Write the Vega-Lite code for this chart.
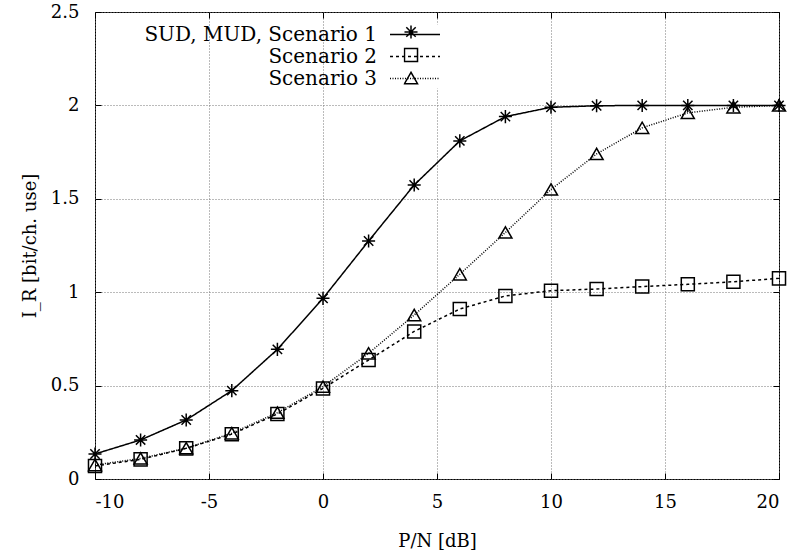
{
  "$schema": "https://vega.github.io/schema/vega-lite/v6.json",
  "width": 684,
  "height": 467,
  "autosize": "none",
  "padding": {"left": 95, "top": 12, "right": 16, "bottom": 79},
  "background": "white",
  "config": {
    "font": "DejaVu Serif",
    "view": {"stroke": "black", "strokeWidth": 1}
  },
  "data": {
    "values": [
      {"x": -10, "y": 0.134, "s": "SUD, MUD, Scenario 1"},
      {"x": -8, "y": 0.209, "s": "SUD, MUD, Scenario 1"},
      {"x": -6, "y": 0.316, "s": "SUD, MUD, Scenario 1"},
      {"x": -4, "y": 0.473, "s": "SUD, MUD, Scenario 1"},
      {"x": -2, "y": 0.694, "s": "SUD, MUD, Scenario 1"},
      {"x": 0, "y": 0.967, "s": "SUD, MUD, Scenario 1"},
      {"x": 2, "y": 1.274, "s": "SUD, MUD, Scenario 1"},
      {"x": 4, "y": 1.574, "s": "SUD, MUD, Scenario 1"},
      {"x": 6, "y": 1.81, "s": "SUD, MUD, Scenario 1"},
      {"x": 8, "y": 1.94, "s": "SUD, MUD, Scenario 1"},
      {"x": 10, "y": 1.99, "s": "SUD, MUD, Scenario 1"},
      {"x": 12, "y": 1.998, "s": "SUD, MUD, Scenario 1"},
      {"x": 14, "y": 2.0, "s": "SUD, MUD, Scenario 1"},
      {"x": 16, "y": 2.0, "s": "SUD, MUD, Scenario 1"},
      {"x": 18, "y": 2.0, "s": "SUD, MUD, Scenario 1"},
      {"x": 20, "y": 2.0, "s": "SUD, MUD, Scenario 1"},
      {"x": -10, "y": 0.07, "s": "Scenario 2"},
      {"x": -8, "y": 0.105, "s": "Scenario 2"},
      {"x": -6, "y": 0.164, "s": "Scenario 2"},
      {"x": -4, "y": 0.24, "s": "Scenario 2"},
      {"x": -2, "y": 0.348, "s": "Scenario 2"},
      {"x": 0, "y": 0.485, "s": "Scenario 2"},
      {"x": 2, "y": 0.637, "s": "Scenario 2"},
      {"x": 4, "y": 0.79, "s": "Scenario 2"},
      {"x": 6, "y": 0.91, "s": "Scenario 2"},
      {"x": 8, "y": 0.98, "s": "Scenario 2"},
      {"x": 10, "y": 1.008, "s": "Scenario 2"},
      {"x": 12, "y": 1.017, "s": "Scenario 2"},
      {"x": 14, "y": 1.03, "s": "Scenario 2"},
      {"x": 16, "y": 1.042, "s": "Scenario 2"},
      {"x": 18, "y": 1.056, "s": "Scenario 2"},
      {"x": 20, "y": 1.074, "s": "Scenario 2"},
      {"x": -10, "y": 0.075, "s": "Scenario 3"},
      {"x": -8, "y": 0.11, "s": "Scenario 3"},
      {"x": -6, "y": 0.165, "s": "Scenario 3"},
      {"x": -4, "y": 0.245, "s": "Scenario 3"},
      {"x": -2, "y": 0.355, "s": "Scenario 3"},
      {"x": 0, "y": 0.494, "s": "Scenario 3"},
      {"x": 2, "y": 0.673, "s": "Scenario 3"},
      {"x": 4, "y": 0.878, "s": "Scenario 3"},
      {"x": 6, "y": 1.096, "s": "Scenario 3"},
      {"x": 8, "y": 1.32, "s": "Scenario 3"},
      {"x": 10, "y": 1.55, "s": "Scenario 3"},
      {"x": 12, "y": 1.74, "s": "Scenario 3"},
      {"x": 14, "y": 1.88, "s": "Scenario 3"},
      {"x": 16, "y": 1.96, "s": "Scenario 3"},
      {"x": 18, "y": 1.99, "s": "Scenario 3"},
      {"x": 20, "y": 2.0, "s": "Scenario 3"}
    ]
  },
  "layer": [
    {
      "mark": {"type": "line", "color": "black", "strokeWidth": 1.5},
      "encoding": {
        "x": {
          "field": "x", "type": "quantitative",
          "scale": {"domain": [-10, 20], "nice": false},
          "axis": {
            "title": "P/N [dB]", "values": [-10, -5, 0, 5, 10, 15, 20],
            "labelExpr": "replace(format(datum.value, 'd'), '−', '-')",
            "grid": true, "gridDash": [1, 2], "gridColor": "#777", "gridWidth": 1,
            "tickSize": -6, "tickColor": "black", "domain": false,
            "labelFontSize": 18, "labelColor": "black", "labelPadding": 20,
            "titleFontSize": 18, "titleFontWeight": "normal", "titleColor": "black", "titlePadding": 21
          }
        },
        "y": {
          "field": "y", "type": "quantitative",
          "scale": {"domain": [0, 2.5], "nice": false},
          "axis": {
            "title": "I_R [bit/ch. use]", "values": [0, 0.5, 1, 1.5, 2, 2.5],
            "labelExpr": "format(datum.value, '~g')",
            "grid": true, "gridDash": [1, 2], "gridColor": "#777", "gridWidth": 1,
            "tickSize": -6, "tickColor": "black", "domain": false,
            "labelFontSize": 18, "labelColor": "black", "labelPadding": 22,
            "titleFontSize": 18, "titleFontWeight": "normal", "titleColor": "black", "titlePadding": 11
          }
        },
        "strokeDash": {
          "field": "s", "type": "nominal",
          "scale": {
            "domain": ["SUD, MUD, Scenario 1", "Scenario 2", "Scenario 3"],
            "range": [[1, 0], [3, 3], [1, 1.5]]
          },
          "legend": {
            "title": null, "orient": "none", "legendX": 310, "legendY": 12.5,
            "symbolType": "M-5,0L5,0", "symbolSize": 100, "symbolStrokeWidth": 1.5,
            "symbolStrokeColor": "black", "rowPadding": 2,
            "labelAlign": "right", "labelOffset": -48, "labelFontSize": 20,
            "labelColor": "black", "labelLimit": 400, "fillColor": "white", "padding": 0
          }
        }
      }
    },
    {
      "mark": {"type": "point", "filled": false, "color": "black", "strokeWidth": 1.5, "opacity": 1, "size": 170},
      "encoding": {
        "x": {
          "field": "x", "type": "quantitative",
          "axis": {
            "orient": "top", "title": null, "labels": false, "values": [-10, -5, 0, 5, 10, 15, 20],
            "grid": false, "tickSize": -6, "tickColor": "black", "domain": false
          }
        },
        "y": {
          "field": "y", "type": "quantitative",
          "axis": {
            "orient": "right", "title": null, "labels": false, "values": [0, 0.5, 1, 1.5, 2, 2.5],
            "grid": false, "tickSize": -6, "tickColor": "black", "domain": false
          }
        },
        "shape": {
          "field": "s", "type": "nominal",
          "scale": {
            "domain": ["SUD, MUD, Scenario 1", "Scenario 2", "Scenario 3"],
            "range": ["M-1,0L1,0M0,-1L0,1M-0.72,-0.72L0.72,0.72M-0.72,0.72L0.72,-0.72", "square", "triangle-up"]
          },
          "legend": {
            "title": null, "orient": "none", "legendX": 308.5, "legendY": 8.5,
            "symbolSize": 170, "symbolStrokeWidth": 1.5, "symbolStrokeColor": "black",
            "symbolFillColor": "transparent", "clipHeight": 23, "rowPadding": 0,
            "labelExpr": "''", "labelFontSize": 1, "padding": 0
          }
        }
      }
    }
  ],
  "resolve": {
    "axis": {"x": "independent", "y": "independent"},
    "legend": {"strokeDash": "independent", "shape": "independent"}
  }
}
